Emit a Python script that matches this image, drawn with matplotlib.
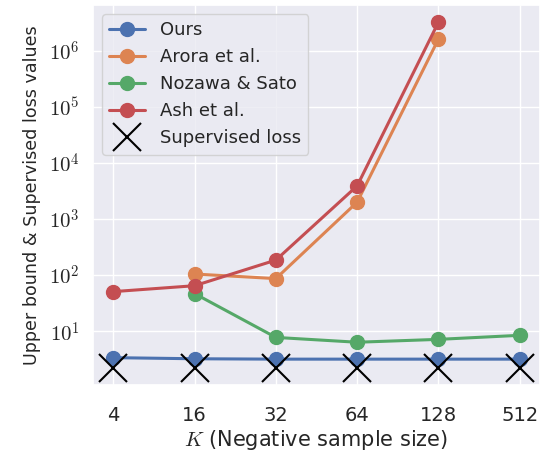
import matplotlib
matplotlib.use("Agg")
import matplotlib.pyplot as plt
from matplotlib.ticker import FuncFormatter
import seaborn as sns
import numpy as np

sns.set_theme(style="darkgrid")
plt.rcParams['font.family'] = ['DejaVu Sans']
plt.rcParams['mathtext.fontset'] = 'cm'

K_labels = ["4", "16", "32", "64", "128", "512"]
ours = [3.4, 3.25, 3.2, 3.2, 3.2, 3.2]
arora = [None, 105, 87, 2000, 1.6e6, None]
nozawa = [None, 47, 7.8, 6.4, 7.2, 8.5]
ash = [51, 65, 186, 3900, 3.2e6, None]
supervised = [2.25, 2.25, 2.25, 2.25, 2.25, 2.25]

pal = sns.color_palette("deep")
fig = plt.figure(figsize=(5.41, 4.57), dpi=100)
ax = fig.add_axes([93/541, 1-385/457, (540-93)/541, (385-5)/457])

x = np.arange(len(K_labels))

def plot_series(vals, color, label):
    xs = [xi for xi, v in zip(x, vals) if v is not None]
    ys = [v for v in vals if v is not None]
    ax.plot(xs, ys, marker='o', color=color, lw=2.2, markersize=10, label=label)

plot_series(ours, pal[0], "Ours")
plot_series(arora, pal[1], "Arora et al.")
plot_series(nozawa, pal[2], "Nozawa & Sato")
plot_series(ash, pal[3], "Ash et al.")
ax.plot(x, supervised, linestyle='none', marker='x', color='black', markersize=20,
        mew=1.5, label="Supervised loss")

ax.set_yscale('log')
ax.set_xticks(x)
ax.set_xticklabels(K_labels, fontsize=14)
ax.tick_params(axis='x', pad=9)
ax.tick_params(axis='y', labelsize=15)
ax.minorticks_off()
ax.set_yticks([1e1, 1e2, 1e3, 1e4, 1e5, 1e6])
ax.yaxis.set_major_formatter(FuncFormatter(lambda v, p: r"$10^{%d}$" % round(np.log10(v))))
ax.set_xlabel(r"$K$ (Negative sample size)", fontsize=15, labelpad=2)
ax.set_ylabel("Upper bound & Supervised loss values", fontsize=12.6, labelpad=6)
ax.legend(loc='upper left', fontsize=13, frameon=True)

fig.savefig("out.png", dpi=100)
